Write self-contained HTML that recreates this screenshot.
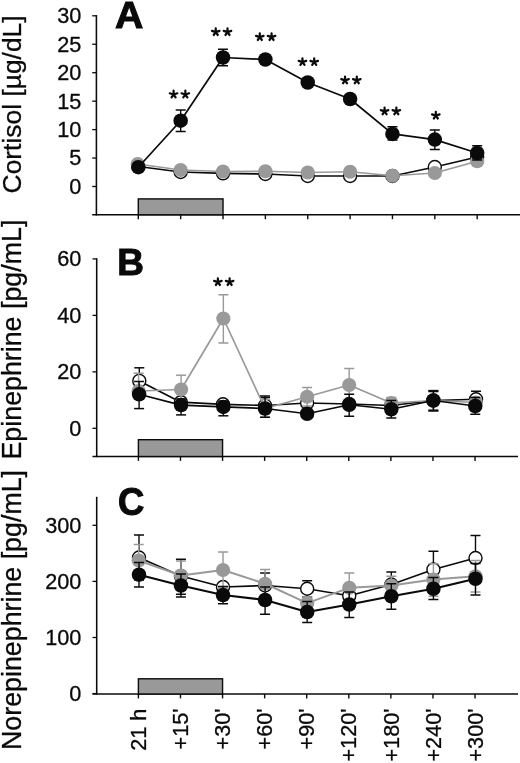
<!DOCTYPE html>
<html><head><meta charset="utf-8"><title>Figure</title>
<style>
html,body{margin:0;padding:0;background:#fff;}
body{width:520px;height:763px;overflow:hidden;font-family:"Liberation Sans",sans-serif;}
svg{display:block;will-change:transform;}
</style></head><body>
<svg width="520" height="763" viewBox="0 0 520 763">
<rect x="0" y="0" width="520" height="763" fill="#ffffff"/>
<line x1="96.40" y1="15.10" x2="96.40" y2="215.50" stroke="#0a0a0a" stroke-width="1.55"/>
<line x1="92.20" y1="214.80" x2="520.00" y2="214.80" stroke="#0a0a0a" stroke-width="1.4"/>
<line x1="92.20" y1="15.80" x2="96.40" y2="15.80" stroke="#0a0a0a" stroke-width="1.3"/>
<line x1="92.20" y1="44.25" x2="96.40" y2="44.25" stroke="#0a0a0a" stroke-width="1.3"/>
<line x1="92.20" y1="72.70" x2="96.40" y2="72.70" stroke="#0a0a0a" stroke-width="1.3"/>
<line x1="92.20" y1="101.15" x2="96.40" y2="101.15" stroke="#0a0a0a" stroke-width="1.3"/>
<line x1="92.20" y1="129.60" x2="96.40" y2="129.60" stroke="#0a0a0a" stroke-width="1.3"/>
<line x1="92.20" y1="158.05" x2="96.40" y2="158.05" stroke="#0a0a0a" stroke-width="1.3"/>
<line x1="92.20" y1="186.50" x2="96.40" y2="186.50" stroke="#0a0a0a" stroke-width="1.3"/>
<line x1="138.30" y1="214.80" x2="138.30" y2="219.20" stroke="#0a0a0a" stroke-width="1.4"/>
<line x1="180.66" y1="214.80" x2="180.66" y2="219.20" stroke="#0a0a0a" stroke-width="1.4"/>
<line x1="223.02" y1="214.80" x2="223.02" y2="219.20" stroke="#0a0a0a" stroke-width="1.4"/>
<line x1="265.38" y1="214.80" x2="265.38" y2="219.20" stroke="#0a0a0a" stroke-width="1.4"/>
<line x1="307.74" y1="214.80" x2="307.74" y2="219.20" stroke="#0a0a0a" stroke-width="1.4"/>
<line x1="350.10" y1="214.80" x2="350.10" y2="219.20" stroke="#0a0a0a" stroke-width="1.4"/>
<line x1="392.46" y1="214.80" x2="392.46" y2="219.20" stroke="#0a0a0a" stroke-width="1.4"/>
<line x1="434.82" y1="214.80" x2="434.82" y2="219.20" stroke="#0a0a0a" stroke-width="1.4"/>
<line x1="477.18" y1="214.80" x2="477.18" y2="219.20" stroke="#0a0a0a" stroke-width="1.4"/>
<text x="81.35" y="23.20" text-anchor="end" font-family="Liberation Sans, sans-serif" font-size="21.7" fill="#0a0a0a" stroke="#0a0a0a" stroke-width="0.3">30</text>
<text x="81.35" y="51.65" text-anchor="end" font-family="Liberation Sans, sans-serif" font-size="21.7" fill="#0a0a0a" stroke="#0a0a0a" stroke-width="0.3">25</text>
<text x="81.35" y="80.10" text-anchor="end" font-family="Liberation Sans, sans-serif" font-size="21.7" fill="#0a0a0a" stroke="#0a0a0a" stroke-width="0.3">20</text>
<text x="81.35" y="108.55" text-anchor="end" font-family="Liberation Sans, sans-serif" font-size="21.7" fill="#0a0a0a" stroke="#0a0a0a" stroke-width="0.3">15</text>
<text x="81.35" y="137.00" text-anchor="end" font-family="Liberation Sans, sans-serif" font-size="21.7" fill="#0a0a0a" stroke="#0a0a0a" stroke-width="0.3">10</text>
<text x="81.35" y="165.45" text-anchor="end" font-family="Liberation Sans, sans-serif" font-size="21.7" fill="#0a0a0a" stroke="#0a0a0a" stroke-width="0.3">5</text>
<text x="81.35" y="193.90" text-anchor="end" font-family="Liberation Sans, sans-serif" font-size="21.7" fill="#0a0a0a" stroke="#0a0a0a" stroke-width="0.3">0</text>
<rect x="138.30" y="198.90" width="84.72" height="15.90" fill="#999999" stroke="#0a0a0a" stroke-width="1.4"/>
<polyline fill="none" stroke="#0a0a0a" stroke-width="1.7" stroke-linejoin="round" points="138.30,166.50 180.66,172.00 223.02,173.30 265.38,174.00 307.74,176.00 350.10,176.00 392.46,176.00 434.82,167.00 477.18,157.00"/>
<circle cx="138.30" cy="166.50" r="6.5" fill="#fff" stroke="#0a0a0a" stroke-width="1.4"/>
<circle cx="180.66" cy="172.00" r="6.5" fill="#fff" stroke="#0a0a0a" stroke-width="1.4"/>
<circle cx="223.02" cy="173.30" r="6.5" fill="#fff" stroke="#0a0a0a" stroke-width="1.4"/>
<circle cx="265.38" cy="174.00" r="6.5" fill="#fff" stroke="#0a0a0a" stroke-width="1.4"/>
<circle cx="307.74" cy="176.00" r="6.5" fill="#fff" stroke="#0a0a0a" stroke-width="1.4"/>
<circle cx="350.10" cy="176.00" r="6.5" fill="#fff" stroke="#0a0a0a" stroke-width="1.4"/>
<circle cx="392.46" cy="176.00" r="6.5" fill="#fff" stroke="#0a0a0a" stroke-width="1.4"/>
<circle cx="434.82" cy="167.00" r="6.5" fill="#fff" stroke="#0a0a0a" stroke-width="1.4"/>
<circle cx="477.18" cy="157.00" r="6.5" fill="#fff" stroke="#0a0a0a" stroke-width="1.4"/>
<polyline fill="none" stroke="#999999" stroke-width="1.7" stroke-linejoin="round" points="137.70,164.00 180.66,170.00 223.02,171.50 265.38,171.25 307.74,172.50 350.10,171.75 392.46,175.75 434.82,173.00 477.18,161.25"/>
<circle cx="137.70" cy="164.00" r="7.1" fill="#999999"/>
<circle cx="180.66" cy="170.00" r="7.1" fill="#999999"/>
<circle cx="223.02" cy="171.50" r="7.1" fill="#999999"/>
<circle cx="265.38" cy="171.25" r="7.1" fill="#999999"/>
<circle cx="307.74" cy="172.50" r="7.1" fill="#999999"/>
<circle cx="350.10" cy="171.75" r="7.1" fill="#999999"/>
<circle cx="392.46" cy="175.75" r="7.1" fill="#999999"/>
<circle cx="434.82" cy="173.00" r="7.1" fill="#999999"/>
<circle cx="477.18" cy="161.25" r="7.1" fill="#999999"/>
<polyline fill="none" stroke="#0a0a0a" stroke-width="1.7" stroke-linejoin="round" points="138.30,167.20 180.66,120.70 223.02,57.50 265.38,59.50 307.74,82.50 350.10,99.00 392.46,133.90 434.82,139.60 477.18,153.00"/>
<line x1="180.66" y1="110.00" x2="180.66" y2="131.50" stroke="#0a0a0a" stroke-width="1.4"/>
<line x1="175.66" y1="110.00" x2="185.66" y2="110.00" stroke="#0a0a0a" stroke-width="1.5"/>
<line x1="175.66" y1="131.50" x2="185.66" y2="131.50" stroke="#0a0a0a" stroke-width="1.5"/>
<line x1="223.02" y1="49.25" x2="223.02" y2="65.75" stroke="#0a0a0a" stroke-width="1.4"/>
<line x1="218.02" y1="49.25" x2="228.02" y2="49.25" stroke="#0a0a0a" stroke-width="1.5"/>
<line x1="218.02" y1="65.75" x2="228.02" y2="65.75" stroke="#0a0a0a" stroke-width="1.5"/>
<line x1="392.46" y1="126.75" x2="392.46" y2="140.00" stroke="#0a0a0a" stroke-width="1.4"/>
<line x1="387.46" y1="126.75" x2="397.46" y2="126.75" stroke="#0a0a0a" stroke-width="1.5"/>
<line x1="387.46" y1="140.00" x2="397.46" y2="140.00" stroke="#0a0a0a" stroke-width="1.5"/>
<line x1="434.82" y1="130.00" x2="434.82" y2="149.50" stroke="#0a0a0a" stroke-width="1.4"/>
<line x1="429.82" y1="130.00" x2="439.82" y2="130.00" stroke="#0a0a0a" stroke-width="1.5"/>
<line x1="429.82" y1="149.50" x2="439.82" y2="149.50" stroke="#0a0a0a" stroke-width="1.5"/>
<line x1="477.18" y1="145.75" x2="477.18" y2="160.00" stroke="#0a0a0a" stroke-width="1.4"/>
<line x1="472.18" y1="145.75" x2="482.18" y2="145.75" stroke="#0a0a0a" stroke-width="1.5"/>
<line x1="472.18" y1="160.00" x2="482.18" y2="160.00" stroke="#0a0a0a" stroke-width="1.5"/>
<circle cx="138.30" cy="167.20" r="7.25" fill="#0a0a0a"/>
<circle cx="180.66" cy="120.70" r="7.25" fill="#0a0a0a"/>
<circle cx="223.02" cy="57.50" r="7.25" fill="#0a0a0a"/>
<circle cx="265.38" cy="59.50" r="7.25" fill="#0a0a0a"/>
<circle cx="307.74" cy="82.50" r="7.25" fill="#0a0a0a"/>
<circle cx="350.10" cy="99.00" r="7.25" fill="#0a0a0a"/>
<circle cx="392.46" cy="133.90" r="7.25" fill="#0a0a0a"/>
<circle cx="434.82" cy="139.60" r="7.25" fill="#0a0a0a"/>
<circle cx="477.18" cy="153.00" r="7.25" fill="#0a0a0a"/>
<path d="M173.59,94.50L173.59,90.70M173.59,94.50L177.39,93.26M173.59,94.50L175.64,97.33M173.59,94.50L171.53,97.33M173.59,94.50L169.78,93.26" stroke="#0a0a0a" stroke-width="2.2" stroke-linecap="round" fill="none"/>
<path d="M185.34,94.50L185.34,90.70M185.34,94.50L189.14,93.26M185.34,94.50L187.39,97.33M185.34,94.50L183.28,97.33M185.34,94.50L181.53,93.26" stroke="#0a0a0a" stroke-width="2.2" stroke-linecap="round" fill="none"/>
<path d="M215.75,32.15L215.75,28.35M215.75,32.15L219.55,30.91M215.75,32.15L217.80,34.98M215.75,32.15L213.69,34.98M215.75,32.15L211.94,30.91" stroke="#0a0a0a" stroke-width="2.2" stroke-linecap="round" fill="none"/>
<path d="M227.50,32.15L227.50,28.35M227.50,32.15L231.30,30.91M227.50,32.15L229.55,34.98M227.50,32.15L225.44,34.98M227.50,32.15L223.69,30.91" stroke="#0a0a0a" stroke-width="2.2" stroke-linecap="round" fill="none"/>
<path d="M259.81,37.15L259.81,33.35M259.81,37.15L263.61,35.91M259.81,37.15L261.86,39.98M259.81,37.15L257.75,39.98M259.81,37.15L256.00,35.91" stroke="#0a0a0a" stroke-width="2.2" stroke-linecap="round" fill="none"/>
<path d="M271.56,37.15L271.56,33.35M271.56,37.15L275.36,35.91M271.56,37.15L273.61,39.98M271.56,37.15L269.50,39.98M271.56,37.15L267.75,35.91" stroke="#0a0a0a" stroke-width="2.2" stroke-linecap="round" fill="none"/>
<path d="M302.47,62.10L302.47,58.30M302.47,62.10L306.27,60.86M302.47,62.10L304.52,64.93M302.47,62.10L300.41,64.93M302.47,62.10L298.66,60.86" stroke="#0a0a0a" stroke-width="2.2" stroke-linecap="round" fill="none"/>
<path d="M314.22,62.10L314.22,58.30M314.22,62.10L318.02,60.86M314.22,62.10L316.27,64.93M314.22,62.10L312.16,64.93M314.22,62.10L310.41,60.86" stroke="#0a0a0a" stroke-width="2.2" stroke-linecap="round" fill="none"/>
<path d="M345.03,80.40L345.03,76.60M345.03,80.40L348.83,79.16M345.03,80.40L347.08,83.23M345.03,80.40L342.97,83.23M345.03,80.40L341.22,79.16" stroke="#0a0a0a" stroke-width="2.2" stroke-linecap="round" fill="none"/>
<path d="M356.78,80.40L356.78,76.60M356.78,80.40L360.58,79.16M356.78,80.40L358.83,83.23M356.78,80.40L354.72,83.23M356.78,80.40L352.97,79.16" stroke="#0a0a0a" stroke-width="2.2" stroke-linecap="round" fill="none"/>
<path d="M384.59,111.40L384.59,107.60M384.59,111.40L388.39,110.16M384.59,111.40L386.64,114.23M384.59,111.40L382.53,114.23M384.59,111.40L380.78,110.16" stroke="#0a0a0a" stroke-width="2.2" stroke-linecap="round" fill="none"/>
<path d="M396.34,111.40L396.34,107.60M396.34,111.40L400.14,110.16M396.34,111.40L398.39,114.23M396.34,111.40L394.28,114.23M396.34,111.40L392.53,110.16" stroke="#0a0a0a" stroke-width="2.2" stroke-linecap="round" fill="none"/>
<path d="M435.82,115.65L435.82,111.85M435.82,115.65L439.62,114.41M435.82,115.65L437.88,118.48M435.82,115.65L433.76,118.48M435.82,115.65L432.02,114.41" stroke="#0a0a0a" stroke-width="2.2" stroke-linecap="round" fill="none"/>
<text transform="translate(115.0,27.8) scale(1.06,1.0)" font-family="Liberation Sans, sans-serif" font-size="37" font-weight="bold" fill="#0a0a0a" stroke="#0a0a0a" stroke-width="1.0" stroke-linejoin="miter">A</text>
<text transform="translate(21.3,193.4) rotate(-90)" font-family="Liberation Sans, sans-serif" font-size="26.4" fill="#0a0a0a" stroke="#0a0a0a" stroke-width="0.3">Cortisol [µg/dL]</text>
<line x1="96.70" y1="258.20" x2="96.70" y2="457.20" stroke="#0a0a0a" stroke-width="1.55"/>
<line x1="92.50" y1="456.50" x2="518.00" y2="456.50" stroke="#0a0a0a" stroke-width="1.4"/>
<line x1="92.50" y1="258.90" x2="96.70" y2="258.90" stroke="#0a0a0a" stroke-width="1.3"/>
<line x1="92.50" y1="315.40" x2="96.70" y2="315.40" stroke="#0a0a0a" stroke-width="1.3"/>
<line x1="92.50" y1="371.85" x2="96.70" y2="371.85" stroke="#0a0a0a" stroke-width="1.3"/>
<line x1="92.50" y1="428.30" x2="96.70" y2="428.30" stroke="#0a0a0a" stroke-width="1.3"/>
<line x1="138.40" y1="456.50" x2="138.40" y2="460.90" stroke="#0a0a0a" stroke-width="1.4"/>
<line x1="180.48" y1="456.50" x2="180.48" y2="460.90" stroke="#0a0a0a" stroke-width="1.4"/>
<line x1="222.56" y1="456.50" x2="222.56" y2="460.90" stroke="#0a0a0a" stroke-width="1.4"/>
<line x1="264.64" y1="456.50" x2="264.64" y2="460.90" stroke="#0a0a0a" stroke-width="1.4"/>
<line x1="306.72" y1="456.50" x2="306.72" y2="460.90" stroke="#0a0a0a" stroke-width="1.4"/>
<line x1="348.80" y1="456.50" x2="348.80" y2="460.90" stroke="#0a0a0a" stroke-width="1.4"/>
<line x1="390.88" y1="456.50" x2="390.88" y2="460.90" stroke="#0a0a0a" stroke-width="1.4"/>
<line x1="432.96" y1="456.50" x2="432.96" y2="460.90" stroke="#0a0a0a" stroke-width="1.4"/>
<line x1="475.04" y1="456.50" x2="475.04" y2="460.90" stroke="#0a0a0a" stroke-width="1.4"/>
<text x="81.35" y="266.30" text-anchor="end" font-family="Liberation Sans, sans-serif" font-size="21.7" fill="#0a0a0a" stroke="#0a0a0a" stroke-width="0.3">60</text>
<text x="81.35" y="322.80" text-anchor="end" font-family="Liberation Sans, sans-serif" font-size="21.7" fill="#0a0a0a" stroke="#0a0a0a" stroke-width="0.3">40</text>
<text x="81.35" y="379.25" text-anchor="end" font-family="Liberation Sans, sans-serif" font-size="21.7" fill="#0a0a0a" stroke="#0a0a0a" stroke-width="0.3">20</text>
<text x="81.35" y="435.70" text-anchor="end" font-family="Liberation Sans, sans-serif" font-size="21.7" fill="#0a0a0a" stroke="#0a0a0a" stroke-width="0.3">0</text>
<rect x="138.40" y="439.70" width="84.16" height="16.80" fill="#999999" stroke="#0a0a0a" stroke-width="1.4"/>
<polyline fill="none" stroke="#0a0a0a" stroke-width="1.7" stroke-linejoin="round" points="139.30,380.90 180.88,402.20 222.96,404.30 265.04,405.50 307.12,403.00 349.20,404.00 391.28,405.50 433.36,400.50 476.04,399.25"/>
<line x1="139.30" y1="367.80" x2="139.30" y2="394.50" stroke="#0a0a0a" stroke-width="1.4"/>
<line x1="134.30" y1="367.80" x2="144.30" y2="367.80" stroke="#0a0a0a" stroke-width="1.5"/>
<line x1="134.30" y1="394.50" x2="144.30" y2="394.50" stroke="#0a0a0a" stroke-width="1.5"/>
<line x1="265.04" y1="397.50" x2="265.04" y2="413.50" stroke="#0a0a0a" stroke-width="1.4"/>
<line x1="260.04" y1="397.50" x2="270.04" y2="397.50" stroke="#0a0a0a" stroke-width="1.5"/>
<line x1="260.04" y1="413.50" x2="270.04" y2="413.50" stroke="#0a0a0a" stroke-width="1.5"/>
<line x1="433.36" y1="390.60" x2="433.36" y2="410.90" stroke="#0a0a0a" stroke-width="1.4"/>
<line x1="428.36" y1="390.60" x2="438.36" y2="390.60" stroke="#0a0a0a" stroke-width="1.5"/>
<line x1="428.36" y1="410.90" x2="438.36" y2="410.90" stroke="#0a0a0a" stroke-width="1.5"/>
<line x1="476.04" y1="391.25" x2="476.04" y2="407.50" stroke="#0a0a0a" stroke-width="1.4"/>
<line x1="471.04" y1="391.25" x2="481.04" y2="391.25" stroke="#0a0a0a" stroke-width="1.5"/>
<line x1="471.04" y1="407.50" x2="481.04" y2="407.50" stroke="#0a0a0a" stroke-width="1.5"/>
<circle cx="139.30" cy="380.90" r="6.5" fill="#fff" stroke="#0a0a0a" stroke-width="1.4"/>
<circle cx="180.88" cy="402.20" r="6.5" fill="#fff" stroke="#0a0a0a" stroke-width="1.4"/>
<circle cx="222.96" cy="404.30" r="6.5" fill="#fff" stroke="#0a0a0a" stroke-width="1.4"/>
<circle cx="265.04" cy="405.50" r="6.5" fill="#fff" stroke="#0a0a0a" stroke-width="1.4"/>
<circle cx="307.12" cy="403.00" r="6.5" fill="#fff" stroke="#0a0a0a" stroke-width="1.4"/>
<circle cx="349.20" cy="404.00" r="6.5" fill="#fff" stroke="#0a0a0a" stroke-width="1.4"/>
<circle cx="391.28" cy="405.50" r="6.5" fill="#fff" stroke="#0a0a0a" stroke-width="1.4"/>
<circle cx="433.36" cy="400.50" r="6.5" fill="#fff" stroke="#0a0a0a" stroke-width="1.4"/>
<circle cx="476.04" cy="399.25" r="6.5" fill="#fff" stroke="#0a0a0a" stroke-width="1.4"/>
<polyline fill="none" stroke="#999999" stroke-width="1.7" stroke-linejoin="round" points="138.60,391.00 181.08,389.50 223.36,318.50 265.04,408.50 307.12,396.75 349.20,385.00 391.28,403.00 433.36,400.50 475.74,402.50"/>
<line x1="138.60" y1="373.20" x2="138.60" y2="396.00" stroke="#999999" stroke-width="1.4"/>
<line x1="133.60" y1="373.20" x2="143.60" y2="373.20" stroke="#999999" stroke-width="1.5"/>
<line x1="133.60" y1="396.00" x2="143.60" y2="396.00" stroke="#999999" stroke-width="1.5"/>
<line x1="181.08" y1="375.20" x2="181.08" y2="404.50" stroke="#999999" stroke-width="1.4"/>
<line x1="176.08" y1="375.20" x2="186.08" y2="375.20" stroke="#999999" stroke-width="1.5"/>
<line x1="176.08" y1="404.50" x2="186.08" y2="404.50" stroke="#999999" stroke-width="1.5"/>
<line x1="223.36" y1="294.75" x2="223.36" y2="343.00" stroke="#999999" stroke-width="1.4"/>
<line x1="218.36" y1="294.75" x2="228.36" y2="294.75" stroke="#999999" stroke-width="1.5"/>
<line x1="218.36" y1="343.00" x2="228.36" y2="343.00" stroke="#999999" stroke-width="1.5"/>
<line x1="265.04" y1="399.50" x2="265.04" y2="417.25" stroke="#999999" stroke-width="1.4"/>
<line x1="260.04" y1="399.50" x2="270.04" y2="399.50" stroke="#999999" stroke-width="1.5"/>
<line x1="260.04" y1="417.25" x2="270.04" y2="417.25" stroke="#999999" stroke-width="1.5"/>
<line x1="307.12" y1="387.50" x2="307.12" y2="406.00" stroke="#999999" stroke-width="1.4"/>
<line x1="302.12" y1="387.50" x2="312.12" y2="387.50" stroke="#999999" stroke-width="1.5"/>
<line x1="302.12" y1="406.00" x2="312.12" y2="406.00" stroke="#999999" stroke-width="1.5"/>
<line x1="349.20" y1="368.50" x2="349.20" y2="401.50" stroke="#999999" stroke-width="1.4"/>
<line x1="344.20" y1="368.50" x2="354.20" y2="368.50" stroke="#999999" stroke-width="1.5"/>
<line x1="344.20" y1="401.50" x2="354.20" y2="401.50" stroke="#999999" stroke-width="1.5"/>
<line x1="391.28" y1="397.50" x2="391.28" y2="408.50" stroke="#999999" stroke-width="1.4"/>
<line x1="386.28" y1="397.50" x2="396.28" y2="397.50" stroke="#999999" stroke-width="1.5"/>
<line x1="386.28" y1="408.50" x2="396.28" y2="408.50" stroke="#999999" stroke-width="1.5"/>
<line x1="433.36" y1="391.90" x2="433.36" y2="409.60" stroke="#999999" stroke-width="1.4"/>
<line x1="428.36" y1="391.90" x2="438.36" y2="391.90" stroke="#999999" stroke-width="1.5"/>
<line x1="428.36" y1="409.60" x2="438.36" y2="409.60" stroke="#999999" stroke-width="1.5"/>
<circle cx="138.60" cy="391.00" r="7.1" fill="#999999"/>
<circle cx="181.08" cy="389.50" r="7.1" fill="#999999"/>
<circle cx="223.36" cy="318.50" r="7.1" fill="#999999"/>
<circle cx="265.04" cy="408.50" r="7.1" fill="#999999"/>
<circle cx="307.12" cy="396.75" r="7.1" fill="#999999"/>
<circle cx="349.20" cy="385.00" r="7.1" fill="#999999"/>
<circle cx="391.28" cy="403.00" r="7.1" fill="#999999"/>
<circle cx="433.36" cy="400.50" r="7.1" fill="#999999"/>
<circle cx="475.74" cy="402.50" r="7.1" fill="#999999"/>
<polyline fill="none" stroke="#0a0a0a" stroke-width="1.7" stroke-linejoin="round" points="139.10,394.30 181.08,405.10 223.36,406.90 265.04,408.50 307.12,413.75 349.20,404.75 391.28,409.25 433.36,400.50 475.24,406.00"/>
<line x1="139.10" y1="381.50" x2="139.10" y2="408.60" stroke="#0a0a0a" stroke-width="1.4"/>
<line x1="134.10" y1="381.50" x2="144.10" y2="381.50" stroke="#0a0a0a" stroke-width="1.5"/>
<line x1="134.10" y1="408.60" x2="144.10" y2="408.60" stroke="#0a0a0a" stroke-width="1.5"/>
<line x1="181.08" y1="399.00" x2="181.08" y2="414.90" stroke="#0a0a0a" stroke-width="1.4"/>
<line x1="176.08" y1="399.00" x2="186.08" y2="399.00" stroke="#0a0a0a" stroke-width="1.5"/>
<line x1="176.08" y1="414.90" x2="186.08" y2="414.90" stroke="#0a0a0a" stroke-width="1.5"/>
<line x1="223.36" y1="401.00" x2="223.36" y2="415.80" stroke="#0a0a0a" stroke-width="1.4"/>
<line x1="218.36" y1="401.00" x2="228.36" y2="401.00" stroke="#0a0a0a" stroke-width="1.5"/>
<line x1="218.36" y1="415.80" x2="228.36" y2="415.80" stroke="#0a0a0a" stroke-width="1.5"/>
<line x1="265.04" y1="396.00" x2="265.04" y2="417.25" stroke="#0a0a0a" stroke-width="1.4"/>
<line x1="260.04" y1="396.00" x2="270.04" y2="396.00" stroke="#0a0a0a" stroke-width="1.5"/>
<line x1="260.04" y1="417.25" x2="270.04" y2="417.25" stroke="#0a0a0a" stroke-width="1.5"/>
<line x1="349.20" y1="394.25" x2="349.20" y2="416.25" stroke="#0a0a0a" stroke-width="1.4"/>
<line x1="344.20" y1="394.25" x2="354.20" y2="394.25" stroke="#0a0a0a" stroke-width="1.5"/>
<line x1="344.20" y1="416.25" x2="354.20" y2="416.25" stroke="#0a0a0a" stroke-width="1.5"/>
<line x1="391.28" y1="400.50" x2="391.28" y2="418.00" stroke="#0a0a0a" stroke-width="1.4"/>
<line x1="386.28" y1="400.50" x2="396.28" y2="400.50" stroke="#0a0a0a" stroke-width="1.5"/>
<line x1="386.28" y1="418.00" x2="396.28" y2="418.00" stroke="#0a0a0a" stroke-width="1.5"/>
<line x1="433.36" y1="391.25" x2="433.36" y2="410.50" stroke="#0a0a0a" stroke-width="1.4"/>
<line x1="428.36" y1="391.25" x2="438.36" y2="391.25" stroke="#0a0a0a" stroke-width="1.5"/>
<line x1="428.36" y1="410.50" x2="438.36" y2="410.50" stroke="#0a0a0a" stroke-width="1.5"/>
<line x1="475.24" y1="397.50" x2="475.24" y2="414.25" stroke="#0a0a0a" stroke-width="1.4"/>
<line x1="470.24" y1="397.50" x2="480.24" y2="397.50" stroke="#0a0a0a" stroke-width="1.5"/>
<line x1="470.24" y1="414.25" x2="480.24" y2="414.25" stroke="#0a0a0a" stroke-width="1.5"/>
<circle cx="139.10" cy="394.30" r="7.25" fill="#0a0a0a"/>
<circle cx="181.08" cy="405.10" r="7.25" fill="#0a0a0a"/>
<circle cx="223.36" cy="406.90" r="7.25" fill="#0a0a0a"/>
<circle cx="265.04" cy="408.50" r="7.25" fill="#0a0a0a"/>
<circle cx="307.12" cy="413.75" r="7.25" fill="#0a0a0a"/>
<circle cx="349.20" cy="404.75" r="7.25" fill="#0a0a0a"/>
<circle cx="391.28" cy="409.25" r="7.25" fill="#0a0a0a"/>
<circle cx="433.36" cy="400.50" r="7.25" fill="#0a0a0a"/>
<circle cx="475.24" cy="406.00" r="7.25" fill="#0a0a0a"/>
<path d="M217.88,282.15L217.88,278.35M217.88,282.15L221.69,280.91M217.88,282.15L219.94,284.98M217.88,282.15L215.83,284.98M217.88,282.15L214.08,280.91" stroke="#0a0a0a" stroke-width="2.2" stroke-linecap="round" fill="none"/>
<path d="M229.63,282.15L229.63,278.35M229.63,282.15L233.44,280.91M229.63,282.15L231.69,284.98M229.63,282.15L227.58,284.98M229.63,282.15L225.83,280.91" stroke="#0a0a0a" stroke-width="2.2" stroke-linecap="round" fill="none"/>
<text transform="translate(117.3,275.3) scale(1.0,1.0)" font-family="Liberation Sans, sans-serif" font-size="37" font-weight="bold" fill="#0a0a0a" stroke="#0a0a0a" stroke-width="1.0" stroke-linejoin="miter">B</text>
<text transform="translate(21.3,459.5) rotate(-90)" font-family="Liberation Sans, sans-serif" font-size="26.8" fill="#0a0a0a" stroke="#0a0a0a" stroke-width="0.3">Epinephrine [pg/mL]</text>
<line x1="96.70" y1="496.80" x2="96.70" y2="694.70" stroke="#0a0a0a" stroke-width="1.55"/>
<line x1="92.50" y1="694.00" x2="518.00" y2="694.00" stroke="#0a0a0a" stroke-width="1.4"/>
<line x1="92.50" y1="525.30" x2="96.70" y2="525.30" stroke="#0a0a0a" stroke-width="1.3"/>
<line x1="92.50" y1="581.40" x2="96.70" y2="581.40" stroke="#0a0a0a" stroke-width="1.3"/>
<line x1="92.50" y1="637.50" x2="96.70" y2="637.50" stroke="#0a0a0a" stroke-width="1.3"/>
<line x1="92.50" y1="693.60" x2="96.70" y2="693.60" stroke="#0a0a0a" stroke-width="1.3"/>
<line x1="138.40" y1="694.00" x2="138.40" y2="698.40" stroke="#0a0a0a" stroke-width="1.4"/>
<line x1="180.48" y1="694.00" x2="180.48" y2="698.40" stroke="#0a0a0a" stroke-width="1.4"/>
<line x1="222.56" y1="694.00" x2="222.56" y2="698.40" stroke="#0a0a0a" stroke-width="1.4"/>
<line x1="264.64" y1="694.00" x2="264.64" y2="698.40" stroke="#0a0a0a" stroke-width="1.4"/>
<line x1="306.72" y1="694.00" x2="306.72" y2="698.40" stroke="#0a0a0a" stroke-width="1.4"/>
<line x1="348.80" y1="694.00" x2="348.80" y2="698.40" stroke="#0a0a0a" stroke-width="1.4"/>
<line x1="390.88" y1="694.00" x2="390.88" y2="698.40" stroke="#0a0a0a" stroke-width="1.4"/>
<line x1="432.96" y1="694.00" x2="432.96" y2="698.40" stroke="#0a0a0a" stroke-width="1.4"/>
<line x1="475.04" y1="694.00" x2="475.04" y2="698.40" stroke="#0a0a0a" stroke-width="1.4"/>
<text x="81.35" y="532.70" text-anchor="end" font-family="Liberation Sans, sans-serif" font-size="21.7" fill="#0a0a0a" stroke="#0a0a0a" stroke-width="0.3">300</text>
<text x="81.35" y="588.80" text-anchor="end" font-family="Liberation Sans, sans-serif" font-size="21.7" fill="#0a0a0a" stroke="#0a0a0a" stroke-width="0.3">200</text>
<text x="81.35" y="644.90" text-anchor="end" font-family="Liberation Sans, sans-serif" font-size="21.7" fill="#0a0a0a" stroke="#0a0a0a" stroke-width="0.3">100</text>
<text x="81.35" y="701.00" text-anchor="end" font-family="Liberation Sans, sans-serif" font-size="21.7" fill="#0a0a0a" stroke="#0a0a0a" stroke-width="0.3">0</text>
<rect x="138.40" y="678.80" width="84.16" height="15.20" fill="#999999" stroke="#0a0a0a" stroke-width="1.4"/>
<polyline fill="none" stroke="#0a0a0a" stroke-width="1.65" stroke-linejoin="round" points="139.00,557.50 180.93,576.00 223.01,587.00 265.09,585.50 307.17,588.75 349.25,595.70 391.33,584.50 433.41,569.50 475.49,558.00"/>
<line x1="139.00" y1="535.00" x2="139.00" y2="580.00" stroke="#0a0a0a" stroke-width="1.4"/>
<line x1="134.00" y1="535.00" x2="144.00" y2="535.00" stroke="#0a0a0a" stroke-width="1.5"/>
<line x1="134.00" y1="580.00" x2="144.00" y2="580.00" stroke="#0a0a0a" stroke-width="1.5"/>
<line x1="180.93" y1="559.25" x2="180.93" y2="594.25" stroke="#0a0a0a" stroke-width="1.4"/>
<line x1="175.93" y1="559.25" x2="185.93" y2="559.25" stroke="#0a0a0a" stroke-width="1.5"/>
<line x1="175.93" y1="594.25" x2="185.93" y2="594.25" stroke="#0a0a0a" stroke-width="1.5"/>
<line x1="265.09" y1="573.00" x2="265.09" y2="601.00" stroke="#0a0a0a" stroke-width="1.4"/>
<line x1="260.09" y1="573.00" x2="270.09" y2="573.00" stroke="#0a0a0a" stroke-width="1.5"/>
<line x1="260.09" y1="601.00" x2="270.09" y2="601.00" stroke="#0a0a0a" stroke-width="1.5"/>
<line x1="307.17" y1="580.75" x2="307.17" y2="597.00" stroke="#0a0a0a" stroke-width="1.4"/>
<line x1="302.17" y1="580.75" x2="312.17" y2="580.75" stroke="#0a0a0a" stroke-width="1.5"/>
<line x1="302.17" y1="597.00" x2="312.17" y2="597.00" stroke="#0a0a0a" stroke-width="1.5"/>
<line x1="349.25" y1="585.00" x2="349.25" y2="605.00" stroke="#0a0a0a" stroke-width="1.4"/>
<line x1="344.25" y1="585.00" x2="354.25" y2="585.00" stroke="#0a0a0a" stroke-width="1.5"/>
<line x1="344.25" y1="605.00" x2="354.25" y2="605.00" stroke="#0a0a0a" stroke-width="1.5"/>
<line x1="391.33" y1="572.00" x2="391.33" y2="597.00" stroke="#0a0a0a" stroke-width="1.4"/>
<line x1="386.33" y1="572.00" x2="396.33" y2="572.00" stroke="#0a0a0a" stroke-width="1.5"/>
<line x1="386.33" y1="597.00" x2="396.33" y2="597.00" stroke="#0a0a0a" stroke-width="1.5"/>
<line x1="433.41" y1="551.25" x2="433.41" y2="588.00" stroke="#0a0a0a" stroke-width="1.4"/>
<line x1="428.41" y1="551.25" x2="438.41" y2="551.25" stroke="#0a0a0a" stroke-width="1.5"/>
<line x1="428.41" y1="588.00" x2="438.41" y2="588.00" stroke="#0a0a0a" stroke-width="1.5"/>
<line x1="475.49" y1="535.50" x2="475.49" y2="580.50" stroke="#0a0a0a" stroke-width="1.4"/>
<line x1="470.49" y1="535.50" x2="480.49" y2="535.50" stroke="#0a0a0a" stroke-width="1.5"/>
<line x1="470.49" y1="580.50" x2="480.49" y2="580.50" stroke="#0a0a0a" stroke-width="1.5"/>
<circle cx="139.00" cy="557.50" r="6.5" fill="#fff" stroke="#0a0a0a" stroke-width="1.4"/>
<circle cx="180.93" cy="576.00" r="6.5" fill="#fff" stroke="#0a0a0a" stroke-width="1.4"/>
<circle cx="223.01" cy="587.00" r="6.5" fill="#fff" stroke="#0a0a0a" stroke-width="1.4"/>
<circle cx="265.09" cy="585.50" r="6.5" fill="#fff" stroke="#0a0a0a" stroke-width="1.4"/>
<circle cx="307.17" cy="588.75" r="6.5" fill="#fff" stroke="#0a0a0a" stroke-width="1.4"/>
<circle cx="349.25" cy="595.70" r="6.5" fill="#fff" stroke="#0a0a0a" stroke-width="1.4"/>
<circle cx="391.33" cy="584.50" r="6.5" fill="#fff" stroke="#0a0a0a" stroke-width="1.4"/>
<circle cx="433.41" cy="569.50" r="6.5" fill="#fff" stroke="#0a0a0a" stroke-width="1.4"/>
<circle cx="475.49" cy="558.00" r="6.5" fill="#fff" stroke="#0a0a0a" stroke-width="1.4"/>
<polyline fill="none" stroke="#999999" stroke-width="1.95" stroke-linejoin="round" points="138.70,560.50 180.93,575.50 223.01,570.00 265.09,583.75 307.17,603.20 349.25,587.80 391.33,585.50 433.41,579.50 475.49,576.25"/>
<line x1="138.70" y1="544.50" x2="138.70" y2="575.00" stroke="#999999" stroke-width="1.4"/>
<line x1="133.70" y1="544.50" x2="143.70" y2="544.50" stroke="#999999" stroke-width="1.5"/>
<line x1="133.70" y1="575.00" x2="143.70" y2="575.00" stroke="#999999" stroke-width="1.5"/>
<line x1="180.93" y1="561.00" x2="180.93" y2="590.00" stroke="#999999" stroke-width="1.4"/>
<line x1="175.93" y1="561.00" x2="185.93" y2="561.00" stroke="#999999" stroke-width="1.5"/>
<line x1="175.93" y1="590.00" x2="185.93" y2="590.00" stroke="#999999" stroke-width="1.5"/>
<line x1="223.01" y1="552.00" x2="223.01" y2="588.00" stroke="#999999" stroke-width="1.4"/>
<line x1="218.01" y1="552.00" x2="228.01" y2="552.00" stroke="#999999" stroke-width="1.5"/>
<line x1="218.01" y1="588.00" x2="228.01" y2="588.00" stroke="#999999" stroke-width="1.5"/>
<line x1="265.09" y1="569.50" x2="265.09" y2="595.00" stroke="#999999" stroke-width="1.4"/>
<line x1="260.09" y1="569.50" x2="270.09" y2="569.50" stroke="#999999" stroke-width="1.5"/>
<line x1="260.09" y1="595.00" x2="270.09" y2="595.00" stroke="#999999" stroke-width="1.5"/>
<line x1="307.17" y1="597.00" x2="307.17" y2="610.00" stroke="#999999" stroke-width="1.4"/>
<line x1="302.17" y1="597.00" x2="312.17" y2="597.00" stroke="#999999" stroke-width="1.5"/>
<line x1="302.17" y1="610.00" x2="312.17" y2="610.00" stroke="#999999" stroke-width="1.5"/>
<line x1="349.25" y1="573.00" x2="349.25" y2="600.00" stroke="#999999" stroke-width="1.4"/>
<line x1="344.25" y1="573.00" x2="354.25" y2="573.00" stroke="#999999" stroke-width="1.5"/>
<line x1="344.25" y1="600.00" x2="354.25" y2="600.00" stroke="#999999" stroke-width="1.5"/>
<line x1="391.33" y1="576.25" x2="391.33" y2="595.00" stroke="#999999" stroke-width="1.4"/>
<line x1="386.33" y1="576.25" x2="396.33" y2="576.25" stroke="#999999" stroke-width="1.5"/>
<line x1="386.33" y1="595.00" x2="396.33" y2="595.00" stroke="#999999" stroke-width="1.5"/>
<line x1="433.41" y1="563.75" x2="433.41" y2="596.30" stroke="#999999" stroke-width="1.4"/>
<line x1="428.41" y1="563.75" x2="438.41" y2="563.75" stroke="#999999" stroke-width="1.5"/>
<line x1="428.41" y1="596.30" x2="438.41" y2="596.30" stroke="#999999" stroke-width="1.5"/>
<line x1="475.49" y1="560.50" x2="475.49" y2="592.00" stroke="#999999" stroke-width="1.4"/>
<line x1="470.49" y1="560.50" x2="480.49" y2="560.50" stroke="#999999" stroke-width="1.5"/>
<line x1="470.49" y1="592.00" x2="480.49" y2="592.00" stroke="#999999" stroke-width="1.5"/>
<circle cx="138.70" cy="560.50" r="7.1" fill="#999999"/>
<circle cx="180.93" cy="575.50" r="7.1" fill="#999999"/>
<circle cx="223.01" cy="570.00" r="7.1" fill="#999999"/>
<circle cx="265.09" cy="583.75" r="7.1" fill="#999999"/>
<circle cx="307.17" cy="603.20" r="7.1" fill="#999999"/>
<circle cx="349.25" cy="587.80" r="7.1" fill="#999999"/>
<circle cx="391.33" cy="585.50" r="7.1" fill="#999999"/>
<circle cx="433.41" cy="579.50" r="7.1" fill="#999999"/>
<circle cx="475.49" cy="576.25" r="7.1" fill="#999999"/>
<polyline fill="none" stroke="#0a0a0a" stroke-width="2.1" stroke-linejoin="round" points="139.00,574.70 180.93,585.50 223.01,595.00 265.09,600.00 307.17,612.00 349.25,604.50 391.33,596.25 433.41,588.75 475.49,578.75"/>
<line x1="139.00" y1="562.50" x2="139.00" y2="587.00" stroke="#0a0a0a" stroke-width="1.4"/>
<line x1="134.00" y1="562.50" x2="144.00" y2="562.50" stroke="#0a0a0a" stroke-width="1.5"/>
<line x1="134.00" y1="587.00" x2="144.00" y2="587.00" stroke="#0a0a0a" stroke-width="1.5"/>
<line x1="180.93" y1="574.00" x2="180.93" y2="597.00" stroke="#0a0a0a" stroke-width="1.4"/>
<line x1="175.93" y1="574.00" x2="185.93" y2="574.00" stroke="#0a0a0a" stroke-width="1.5"/>
<line x1="175.93" y1="597.00" x2="185.93" y2="597.00" stroke="#0a0a0a" stroke-width="1.5"/>
<line x1="223.01" y1="586.50" x2="223.01" y2="603.75" stroke="#0a0a0a" stroke-width="1.4"/>
<line x1="218.01" y1="586.50" x2="228.01" y2="586.50" stroke="#0a0a0a" stroke-width="1.5"/>
<line x1="218.01" y1="603.75" x2="228.01" y2="603.75" stroke="#0a0a0a" stroke-width="1.5"/>
<line x1="265.09" y1="587.00" x2="265.09" y2="614.25" stroke="#0a0a0a" stroke-width="1.4"/>
<line x1="260.09" y1="587.00" x2="270.09" y2="587.00" stroke="#0a0a0a" stroke-width="1.5"/>
<line x1="260.09" y1="614.25" x2="270.09" y2="614.25" stroke="#0a0a0a" stroke-width="1.5"/>
<line x1="307.17" y1="601.50" x2="307.17" y2="622.50" stroke="#0a0a0a" stroke-width="1.4"/>
<line x1="302.17" y1="601.50" x2="312.17" y2="601.50" stroke="#0a0a0a" stroke-width="1.5"/>
<line x1="302.17" y1="622.50" x2="312.17" y2="622.50" stroke="#0a0a0a" stroke-width="1.5"/>
<line x1="349.25" y1="592.00" x2="349.25" y2="617.50" stroke="#0a0a0a" stroke-width="1.4"/>
<line x1="344.25" y1="592.00" x2="354.25" y2="592.00" stroke="#0a0a0a" stroke-width="1.5"/>
<line x1="344.25" y1="617.50" x2="354.25" y2="617.50" stroke="#0a0a0a" stroke-width="1.5"/>
<line x1="391.33" y1="583.75" x2="391.33" y2="609.25" stroke="#0a0a0a" stroke-width="1.4"/>
<line x1="386.33" y1="583.75" x2="396.33" y2="583.75" stroke="#0a0a0a" stroke-width="1.5"/>
<line x1="386.33" y1="609.25" x2="396.33" y2="609.25" stroke="#0a0a0a" stroke-width="1.5"/>
<line x1="433.41" y1="577.50" x2="433.41" y2="599.50" stroke="#0a0a0a" stroke-width="1.4"/>
<line x1="428.41" y1="577.50" x2="438.41" y2="577.50" stroke="#0a0a0a" stroke-width="1.5"/>
<line x1="428.41" y1="599.50" x2="438.41" y2="599.50" stroke="#0a0a0a" stroke-width="1.5"/>
<line x1="475.49" y1="563.50" x2="475.49" y2="595.00" stroke="#0a0a0a" stroke-width="1.4"/>
<line x1="470.49" y1="563.50" x2="480.49" y2="563.50" stroke="#0a0a0a" stroke-width="1.5"/>
<line x1="470.49" y1="595.00" x2="480.49" y2="595.00" stroke="#0a0a0a" stroke-width="1.5"/>
<circle cx="139.00" cy="574.70" r="7.25" fill="#0a0a0a"/>
<circle cx="180.93" cy="585.50" r="7.25" fill="#0a0a0a"/>
<circle cx="223.01" cy="595.00" r="7.25" fill="#0a0a0a"/>
<circle cx="265.09" cy="600.00" r="7.25" fill="#0a0a0a"/>
<circle cx="307.17" cy="612.00" r="7.25" fill="#0a0a0a"/>
<circle cx="349.25" cy="604.50" r="7.25" fill="#0a0a0a"/>
<circle cx="391.33" cy="596.25" r="7.25" fill="#0a0a0a"/>
<circle cx="433.41" cy="588.75" r="7.25" fill="#0a0a0a"/>
<circle cx="475.49" cy="578.75" r="7.25" fill="#0a0a0a"/>
<text transform="translate(118.0,515.0) scale(0.985,1.045)" font-family="Liberation Sans, sans-serif" font-size="37" font-weight="bold" fill="#0a0a0a" stroke="#0a0a0a" stroke-width="1.0" stroke-linejoin="miter">C</text>
<text transform="translate(21.3,750.0) rotate(-90)" font-family="Liberation Sans, sans-serif" font-size="26.8" fill="#0a0a0a" stroke="#0a0a0a" stroke-width="0.3">Norepinephrine [pg/mL]</text>
<text transform="translate(145.50,708.6) rotate(-90)" text-anchor="end" font-family="Liberation Sans, sans-serif" font-size="21.7" fill="#0a0a0a" stroke="#0a0a0a" stroke-width="0.3">21 h</text>
<text transform="translate(187.69,708.6) rotate(-90)" text-anchor="end" font-family="Liberation Sans, sans-serif" font-size="21.7" fill="#0a0a0a" stroke="#0a0a0a" stroke-width="0.3">+15'</text>
<text transform="translate(229.88,708.6) rotate(-90)" text-anchor="end" font-family="Liberation Sans, sans-serif" font-size="21.7" fill="#0a0a0a" stroke="#0a0a0a" stroke-width="0.3">+30'</text>
<text transform="translate(272.07,708.6) rotate(-90)" text-anchor="end" font-family="Liberation Sans, sans-serif" font-size="21.7" fill="#0a0a0a" stroke="#0a0a0a" stroke-width="0.3">+60'</text>
<text transform="translate(314.26,708.6) rotate(-90)" text-anchor="end" font-family="Liberation Sans, sans-serif" font-size="21.7" fill="#0a0a0a" stroke="#0a0a0a" stroke-width="0.3">+90'</text>
<text transform="translate(356.45,708.6) rotate(-90)" text-anchor="end" font-family="Liberation Sans, sans-serif" font-size="21.7" fill="#0a0a0a" stroke="#0a0a0a" stroke-width="0.3">+120'</text>
<text transform="translate(398.64,708.6) rotate(-90)" text-anchor="end" font-family="Liberation Sans, sans-serif" font-size="21.7" fill="#0a0a0a" stroke="#0a0a0a" stroke-width="0.3">+180'</text>
<text transform="translate(440.83,708.6) rotate(-90)" text-anchor="end" font-family="Liberation Sans, sans-serif" font-size="21.7" fill="#0a0a0a" stroke="#0a0a0a" stroke-width="0.3">+240'</text>
<text transform="translate(483.02,708.6) rotate(-90)" text-anchor="end" font-family="Liberation Sans, sans-serif" font-size="21.7" fill="#0a0a0a" stroke="#0a0a0a" stroke-width="0.3">+300'</text>
</svg>
</body></html>
